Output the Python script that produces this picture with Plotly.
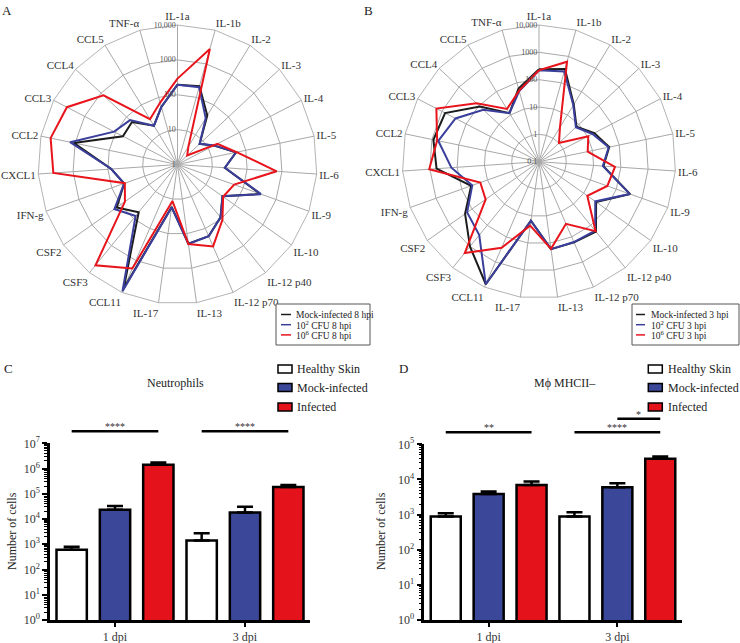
import plotly.graph_objects as go

W, H = 740, 643
FONT = "Liberation Serif"

# ---------------- data ----------------
cytokines = ["IL-1a", "IL-1b", "IL-2", "IL-3", "IL-4", "IL-5", "IL-6", "IL-9", "IL-10",
             "IL-12 p40", "IL-12 p70", "IL-13", "IL-17", "CCL11", "CSF3", "CSF2", "IFN-g",
             "CXCL1", "CCL2", "CCL3", "CCL4", "CCL5", "TNF-α"]

# Panel A (8 hpi)
a_mock = [195, 215, 44, 7.4, 15, 52, 23, 330, 38, 90, 175, 195, 17, 7500, 58, 136, 42, 80, 1100, 58, 61, 20, 52]
a_low = [195, 200, 36, 7.4, 15.5, 52, 23, 345, 38, 90, 175, 200, 17.5, 9100, 80, 164, 42, 80, 1400, 111, 73, 20, 52]
a_high = [290, 2750, 4, 2.4, 19.5, 54, 710, 53, 40, 110, 363, 200, 11.4, 1790, 5330, 70, 40, 3700, 5200, 3730, 800, 33, 70]

# Panel B (3 hpi)
b_mock = [240, 330, 28, 7.5, 19, 42, 23, 345, 36, 200, 165, 170, 15, 7700, 1000, 204, 43, 570, 880, 740, 91, 12, 60]
b_low = [220, 265, 26, 7, 16, 40, 22, 330, 33, 180, 160, 170, 15, 7700, 290, 165, 39, 163, 580, 275, 61, 12, 48]
b_high = [220, 630, 3, 1, 10.7, 6.6, 61, 45, 14.5, 190, 30, 165, 23, 270, 2000, 24.5, 19, 1060, 640, 1690, 134, 18, 50]

a_names = ["Mock-infected 8 hpi", "10<sup>2</sup> CFU 8 hpi", "10<sup>6</sup> CFU 8 hpi"]
b_names = ["Mock-infected 3 hpi", "10<sup>2</sup> CFU 3 hpi", "10<sup>6</sup> CFU 3 hpi"]
radar_colors = ["#1c1c1c", "#3b3f9c", "#e8141c"]

a_ticks = [1, 10, 100, 1000, 10000]
a_ticktext = ["1", "10", "100", "1000", "10,000"]
b_ticks = [0.1, 1, 10, 100, 1000, 10000]
b_ticktext = ["0.1", "1", "10", "100", "1000", "10,000"]

# Panels C and D
days = ["1 dpi", "3 dpi"]
groups = ["Healthy Skin", "Mock-infected", "Infected"]
bar_colors = ["#ffffff", "#3b4899", "#e3121b"]

neut_vals = [[600, 1400], [23300, 18000], [1400000, 185000]]
neut_err = [[200, 1350], [9700, 12400], [340000, 37000]]

mac_vals = [[880, 880], [3880, 6000], [7000, 38700]]
mac_err = [[210, 290], [650, 1800], [1700, 6000]]

c_yticks = list(range(0, 8))
d_yticks = list(range(0, 6))

# significance: (day index, bar from, bar to, label, level)
sig_c = [(0, 0, 2, "****", 0), (1, 0, 2, "****", 0)]
sig_d = [(0, 0, 2, "**", 0), (1, 0, 2, "****", 0), (1, 1, 2, "*", 1)]


def px(x):
    return x / W


def py(y):
    return 1 - y / H


fig = go.Figure()

# ---------------- radar charts ----------------
for sub, series, names in (("polar", (a_mock, a_low, a_high), a_names),
                           ("polar2", (b_mock, b_low, b_high), b_names)):
    for vals, nm, col in zip(series, names, radar_colors):
        fig.add_trace(go.Scatterpolar(
            r=vals + [vals[0]], theta=cytokines + [cytokines[0]], mode="lines",
            line=dict(color=col, width=2), name=nm, subplot=sub, showlegend=False,
        ))


def polar_layout(cx, cy, rad, rng, tv, tt):
    return dict(
        domain=dict(x=[px(cx - rad), px(cx + rad)], y=[py(cy + rad), py(cy - rad)]),
        gridshape="linear",
        bgcolor="white",
        angularaxis=dict(type="category", categoryarray=cytokines, rotation=90,
                         direction="clockwise", showline=True, linecolor="#a0a0a0",
                         linewidth=0.8, gridcolor="#a8a8a8", gridwidth=0.7, ticks="",
                         tickfont=dict(family=FONT, size=11, color="#333")),
        radialaxis=dict(type="log", range=rng, tickvals=tv, ticktext=tt, angle=90,
                        side="counterclockwise", tickangle=90, showline=False,
                        gridcolor="#a8a8a8", gridwidth=0.7, ticks="",
                        tickfont=dict(family=FONT, size=8, color="#555")),
    )


# ---------------- bar charts ----------------
for xa, ya, vals, errs in (("x", "y", neut_vals, neut_err), ("x2", "y2", mac_vals, mac_err)):
    for i, g in enumerate(groups):
        fig.add_trace(go.Bar(
            x=days, y=vals[i], name=g, xaxis=xa, yaxis=ya, offsetgroup=str(i),
            marker=dict(color=bar_colors[i], line=dict(color="black", width=2.5)),
            error_y=dict(type="data", symmetric=False, array=errs[i], arrayminus=[0, 0],
                         color="black", thickness=2.5, width=8),
            showlegend=False,
        ))

C_AX = dict(x0=50, x1=310, ytop=443.3, ybot=620)
D_AX = dict(x0=424.3, x1=681.7, ytop=444.3, ybot=620)


def xaxis_layout(ax, anchor):
    return dict(domain=[px(ax["x0"]), px(ax["x1"])], anchor=anchor, type="category",
                range=[-0.5, 1.5], showline=True, linecolor="black", linewidth=2.5,
                ticks="outside", ticklen=4, tickwidth=2, tickcolor="black",
                showgrid=False, zeroline=False, automargin=False,
                tickfont=dict(family=FONT, size=12, color="#333"))


def yaxis_layout(ax, anchor, ticks):
    return dict(domain=[py(ax["ybot"]), py(ax["ytop"])], anchor=anchor, type="log",
                range=[ticks[0], ticks[-1]], tickvals=[10 ** k for k in ticks],
                ticktext=["10<sup>%d</sup>" % k for k in ticks],
                showline=True, linecolor="black", linewidth=2.5,
                ticks="outside", ticklen=5, tickwidth=2, tickcolor="black",
                minor=dict(ticks="outside", ticklen=3, tickwidth=1, tickcolor="black", dtick="D1"),
                showgrid=False, zeroline=False, automargin=False,
                tickfont=dict(family=FONT, size=12, color="#333"))


shapes = []
annotations = []


def note(x, y, text, size, xanchor="center", yanchor="middle", **kw):
    d = dict(xref="paper", yref="paper", x=px(x), y=py(y), text=text, showarrow=False,
             xanchor=xanchor, yanchor=yanchor, font=dict(family=FONT, size=size, color="#222"))
    d.update(kw)
    annotations.append(d)


# significance brackets
slot = 1 / 3
for sigs, ax, xref, yref in ((sig_c, C_AX, "x", "y domain"), (sig_d, D_AX, "x2", "y2 domain")):
    hpx = ax["ybot"] - ax["ytop"]
    for day, b0, b1, lab, lvl in sigs:
        off = 12 + 13.5 * lvl
        yv = 1 + off / hpx
        xa0 = day + (b0 - 1) * slot
        xa1 = day + (b1 - 1) * slot
        shapes.append(dict(type="line", xref=xref, yref=yref, x0=xa0, x1=xa1, y0=yv, y1=yv,
                           line=dict(color="black", width=2.5)))
        annotations.append(dict(xref=xref, yref=yref, x=(xa0 + xa1) / 2, y=yv, text=lab,
                                showarrow=False, xanchor="center", yanchor="bottom", yshift=-3,
                                font=dict(family=FONT, size=10, color="#333")))

# radar legends (manual boxes)
for names, box, linex, textx in ((a_names, (276, 304, 370, 345), (281, 291), 294),
                                 (b_names, (632, 304, 739, 345), (636, 645), 649)):
    shapes.append(dict(type="rect", xref="paper", yref="paper", x0=px(box[0]), x1=px(box[2]),
                       y0=py(box[3]), y1=py(box[1]), line=dict(color="#555", width=1),
                       fillcolor="white", layer="above"))
    for k, (nm, col) in enumerate(zip(names, radar_colors)):
        yy = 314.5 + 10.2 * k
        shapes.append(dict(type="line", xref="paper", yref="paper", x0=px(linex[0]), x1=px(linex[1]),
                           y0=py(yy), y1=py(yy), line=dict(color=col, width=1.5)))
        note(textx, yy, nm, 9.5, xanchor="left")

# bar legends (manual)
for sx, tx in ((278, 295), (648.3, 666)):
    for k, (g, col) in enumerate(zip(groups, bar_colors)):
        yy = [369, 387.5, 407][k]
        shapes.append(dict(type="rect", xref="paper", yref="paper", x0=px(sx), x1=px(sx + 14),
                           y0=py(yy + 4), y1=py(yy - 4), fillcolor=col,
                           line=dict(color="black", width=1.5)))
        note(tx, yy, g, 12, xanchor="left")

# titles, axis titles, panel letters
note(175, 383, "Neutrophils", 12)
note(565, 383, "Mϕ MHCII–", 12)
for x in (12, 381):
    note(x, 531, "Number of cells", 12, textangle=-90)
for txt, x, y in (("A", 7, 10), ("B", 368, 10), ("C", 8, 368), ("D", 403, 368)):
    note(x, y, txt, 13)

fig.update_layout(
    width=W, height=H, margin=dict(l=0, r=0, t=0, b=0, pad=0, autoexpand=False),
    paper_bgcolor="white", plot_bgcolor="white",
    font=dict(family=FONT, color="#222"),
    barmode="group", bargap=0, bargroupgap=0.3,
    polar=polar_layout(177.5, 164.5, 139.5, [0, 4], a_ticks, a_ticktext),
    polar2=polar_layout(539, 161.7, 136.7, [-1, 4], b_ticks, b_ticktext),
    xaxis=xaxis_layout(C_AX, "y"), yaxis=yaxis_layout(C_AX, "x", c_yticks),
    xaxis2=xaxis_layout(D_AX, "y2"), yaxis2=yaxis_layout(D_AX, "x2", d_yticks),
    shapes=shapes, annotations=annotations, showlegend=False,
)

fig.write_html("out.html", config={"displayModeBar": False},
               post_script="document.body.style.margin='0';document.body.style.padding='0';"
                           "document.documentElement.style.overflow='hidden';")
